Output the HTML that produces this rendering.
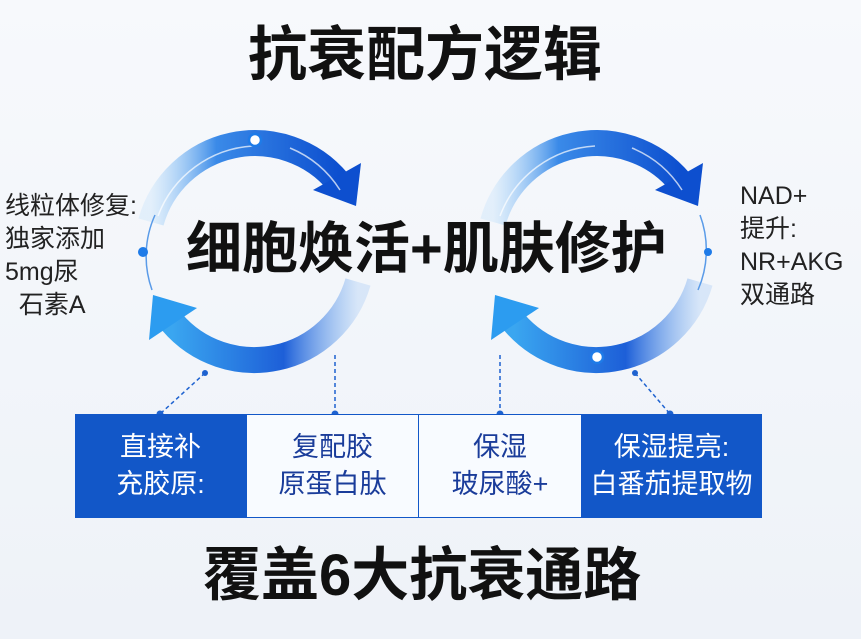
<!DOCTYPE html>
<html><head><meta charset="utf-8"><style>
body{margin:0;width:861px;height:639px;overflow:hidden;background:linear-gradient(180deg,#f7f9fc,#eef2f8);font-family:"Liberation Sans","Noto Sans CJK SC",sans-serif;position:relative}
.t{position:absolute;white-space:nowrap;font-weight:bold;color:#111}
.s{position:absolute;font-size:25px;line-height:33px;color:#222;white-space:nowrap}
.cell{position:absolute;top:414px;height:104px;display:flex;align-items:center;justify-content:center;text-align:center;font-size:27px;line-height:37px}
.d{background:#1257c8;color:#fff}.w{background:#f8fbff;color:#1a3c9a;border:1px solid #1257c8;box-sizing:border-box}
</style></head><body>
<svg width="861" height="639" style="position:absolute;left:0;top:0">
<defs>
<linearGradient id="gt" x1="0" y1="0" x2="1" y2="0"><stop offset="0" stop-color="#9cd0fa" stop-opacity=".2"/><stop offset=".35" stop-color="#3a8ae8"/><stop offset="1" stop-color="#0d4fcf"/></linearGradient>
<linearGradient id="gb" x1="1" y1="0" x2="0" y2="0"><stop offset="0" stop-color="#6aa8f0" stop-opacity=".2"/><stop offset=".4" stop-color="#1d5fd8"/><stop offset="1" stop-color="#3aa6f0"/></linearGradient>
</defs>
<g id="L">
<path d="M151,222 A108,108 0 0 1 338,182" fill="none" stroke="url(#gt)" stroke-width="26"/>
<polygon points="313,190 361,163 356,206" fill="#0d4fcf"/>
<path d="M358,282 A108,108 0 0 1 172,322" fill="none" stroke="url(#gb)" stroke-width="26"/>
<polygon points="153,295 149,340 197,308" fill="#2c9cf0"/>
<path d="M158,216 A108,108 0 0 1 253,146 M290,148 A108,108 0 0 1 340,190" fill="none" stroke="#fff" stroke-opacity=".7" stroke-width="1.5"/>
</g>
<path d="M155,215 A100,100 0 0 0 152,290" fill="none" stroke="#5a9be8" stroke-width="1.5"/>
<circle cx="143" cy="252" r="5" fill="#1e7be8"/>
<circle cx="255" cy="140" r="6" fill="#fff" stroke="#1e7be8" stroke-width="2.5"/>
<use href="#L" x="342"/>
<path d="M700,215 A100,100 0 0 1 698,290" fill="none" stroke="#5a9be8" stroke-width="1.5"/>
<circle cx="708" cy="252" r="4" fill="#1e7be8"/>
<circle cx="597" cy="357" r="6" fill="#fff" stroke="#1e7be8" stroke-width="2.5"/>
<g stroke="#1e62d0" stroke-width="1.5" stroke-dasharray="4,3" fill="none">
<path d="M205,373 L160,414 M335,355 L335,414 M500,355 L500,414 M635,373 L670,414"/></g>
<g fill="#1e62d0"><circle cx="205" cy="373" r="3"/><circle cx="160" cy="414" r="3.5"/><circle cx="335" cy="414" r="3.5"/><circle cx="500" cy="414" r="3.5"/><circle cx="670" cy="414" r="3.5"/><circle cx="635" cy="373" r="3"/></g>
</svg>
<div class="t" style="left:248px;top:20px;font-size:59px;line-height:70px">抗衰配方逻辑</div>
<div class="t" style="left:186px;top:213px;font-size:56px;line-height:72px">细胞焕活+肌肤修护</div>
<div class="t" style="left:203px;top:540px;font-size:58px;line-height:72px">覆盖6大抗衰通路</div>
<div class="s" style="left:5px;top:190px">线粒体修复:<br>独家添加<br>5mg尿<br>&nbsp;&nbsp;石素A</div>
<div class="s" style="left:740px;top:180px">NAD+<br>提升:<br>NR+AKG<br>双通路</div>
<div class="cell d" style="left:75px;width:171px">直接补<br>充胶原:</div>
<div class="cell w" style="left:246px;width:173px">复配胶<br>原蛋白肽</div>
<div class="cell w" style="left:418px;width:164px">保湿<br>玻尿酸+</div>
<div class="cell d" style="left:581px;width:181px">保湿提亮:<br>白番茄提取物</div>
</body></html>
